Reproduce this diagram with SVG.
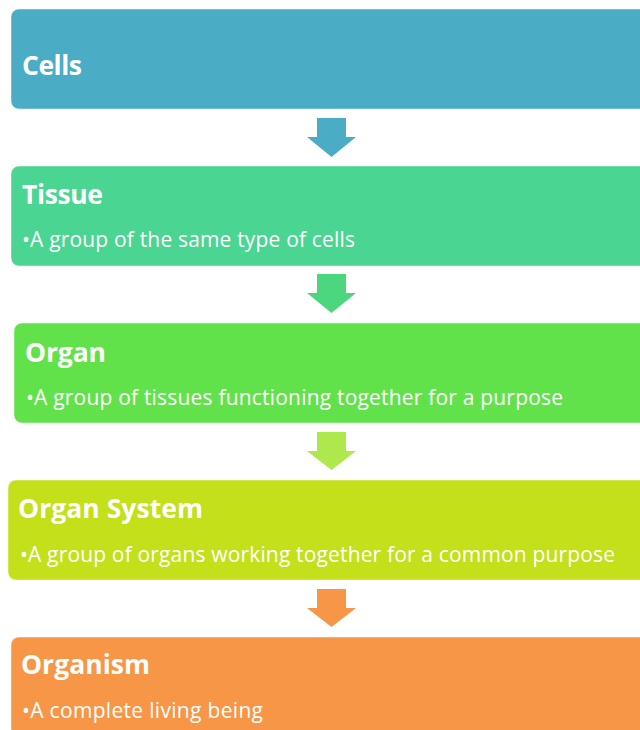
<svg xmlns="http://www.w3.org/2000/svg" width="640" height="730" viewBox="0 0 640 730">
<style>
.box{stroke:#ffffff;stroke-opacity:0.45;stroke-width:1}
.title{font-family:"Open Sans","Liberation Sans",sans-serif;font-weight:bold;font-size:26.5px;fill:#ffffff}
.bullet{font-family:"Open Sans","Liberation Sans",sans-serif;font-size:21px;fill:#ffffff}
</style>
<rect width="640" height="730" fill="#ffffff"/>
<g id="connectors">
<path d="M317,118 H346 V137 H356 L331.5,157 L307,137 H317 Z" fill="#4BACC6"/>
<path d="M317,274 H346 V293 H356 L331.5,313 L307,293 H317 Z" fill="#4CD67E"/>
<path d="M317,432 H346 V451 H356 L331.5,470 L307,451 H317 Z" fill="#AEE84C"/>
<path d="M317,589 H346 V608 H356 L331.5,627 L307,608 H317 Z" fill="#F79646"/>
</g>
<g id="cells">
<rect class="box" x="11" y="9" width="700" height="100" rx="8" fill="#4BACC6"/>
<text class="title" x="22" y="75" textLength="60">Cells</text>
</g>
<g id="tissue">
<rect class="box" x="11" y="166" width="700" height="100" rx="8" fill="#4AD592"/>
<text class="title" x="22" y="204" textLength="81">Tissue</text>
<text class="bullet" x="22" y="247" textLength="333">•A group of the same type of cells</text>
</g>
<g id="organ">
<rect class="box" x="14" y="323" width="700" height="100" rx="8" fill="#62E24A"/>
<text class="title" x="25" y="362" textLength="81">Organ</text>
<text class="bullet" x="26" y="405" textLength="537">•A group of tissues functioning together for a purpose</text>
</g>
<g id="organ-system">
<rect class="box" x="8" y="480" width="700" height="100" rx="8" fill="#C3E01B"/>
<text class="title" x="18" y="518" textLength="185">Organ System</text>
<text class="bullet" x="20" y="562" textLength="595">•A group of organs working together for a common purpose</text>
</g>
<g id="organism">
<rect class="box" x="11" y="637" width="700" height="100" rx="8" fill="#F79646"/>
<text class="title" x="21" y="674" textLength="129">Organism</text>
<text class="bullet" x="22" y="718" textLength="241">•A complete living being</text>
</g>
</svg>
